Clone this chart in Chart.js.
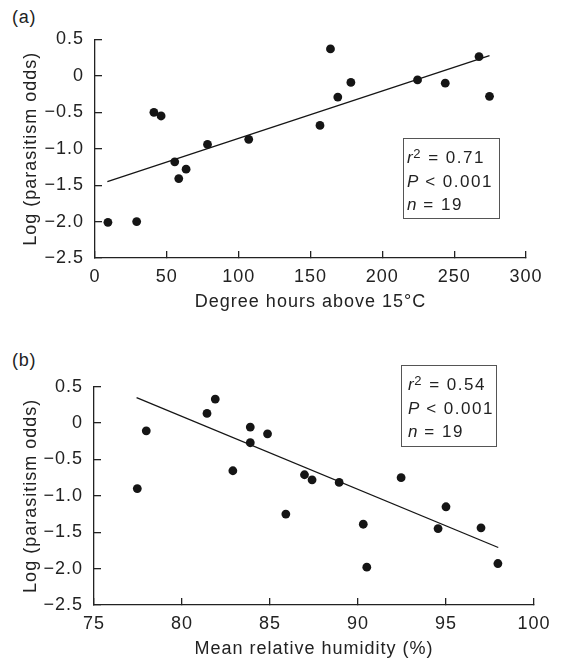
<!DOCTYPE html>
<html>
<head>
<meta charset="utf-8">
<script src="https://cdn.jsdelivr.net/npm/chart.js@4.4.1/dist/chart.umd.min.js"></script>
<style>
    html, body { margin: 0; padding: 0; background: #fff; }
    #fig { position: relative; width: 564px; height: 666px; font-family: "Liberation Sans", Arial, sans-serif; color: #222; }
    #fig canvas { position: absolute; left: 0; }
    .panel-tag { position: absolute; left: 12px; font-size: 18px; line-height: 22px; letter-spacing: 0.8px; }
    .stats { position: absolute; box-sizing: border-box; border: 1px solid #555; padding-top: 7px;
             font-size: 17px; line-height: 23.5px; letter-spacing: 1.5px; white-space: nowrap; }
    .stats i { font-style: italic; letter-spacing: 0.6px; }
    .stats sup { font-size: 13px; line-height: 0; vertical-align: baseline; position: relative; top: -4.6px; }
</style>
</head>
<body>
<div id="fig">
    <div class="panel-tag" style="top: 6px;">(a)</div>
    <div class="panel-tag" style="top: 349px;">(b)</div>
    <canvas id="chartA" width="564" height="333" style="top: 0;"></canvas>
    <canvas id="chartB" width="564" height="333" style="top: 333px;"></canvas>
    <div class="stats" style="left: 403px; top: 138px; width: 97px; height: 81px; padding-left: 3px;">
        <i>r</i><sup>2</sup> = 0.71<br><i>P</i> &lt; 0.001<br><i>n</i> = 19
    </div>
    <div class="stats" style="left: 401px; top: 365px; width: 96px; height: 82px; padding-left: 6px;">
        <i>r</i><sup>2</sup> = 0.54<br><i>P</i> &lt; 0.001<br><i>n</i> = 19
    </div>
</div>
<script>
// Panel (a): degree hours above 15°C vs log parasitism odds
const degreeHours = [9, 29, 41, 46, 55.5, 58.3, 63.4, 78.3, 107, 156.6, 163.9, 169, 178.1, 224.5, 243.8, 267.3, 274.6];
const logOddsA    = [-2.01, -2.0, -0.50, -0.55, -1.18, -1.41, -1.28, -0.94, -0.87, -0.68, 0.37, -0.29, -0.09, -0.055, -0.10, 0.265, -0.28];
const trendAx = [8.6, 274.6];
const trendAy = [-1.45, 0.28];

// Panel (b): mean relative humidity vs log parasitism odds
const humidity = [77.46, 77.97, 81.42, 81.89, 82.89, 83.88, 83.88, 84.86, 85.9, 86.96, 87.39, 88.93, 90.3, 90.5, 92.45, 94.55, 95.0, 96.99, 97.95];
const logOddsB = [-0.90, -0.106, 0.133, 0.33, -0.655, -0.055, -0.27, -0.147, -1.25, -0.71, -0.78, -0.815, -1.39, -1.98, -0.75, -1.45, -1.15, -1.44, -1.93];
const trendBx = [77.42, 97.97];
const trendBy = [0.35, -1.71];

// tick labels
const yTickLabels  = ['\u22122.5', '\u22122.0', '\u22121.5', '\u22121.0', '\u22120.5', '0', '0.5'];
const xTickLabelsA = ['0', '50', '100', '150', '200', '250', '300'];
const xTickLabelsB = ['75', '80', '85', '90', '95', '100'];

const INK = '#222';
const FONT = { family: '"Liberation Sans", Arial, sans-serif', size: 18, lineHeight: 1.2 };

// the printed figure uses a slightly wider-set sans; open the letters up a touch
const spacingPlugin = {
    id: 'spacing',
    beforeDraw(chart) { chart.ctx.letterSpacing = '1px'; }
};

const toPoints = (xs, ys) => xs.map((x, i) => ({ x: x, y: ys[i] }));

function buildPanel(id, cfg) {
    return new Chart(document.getElementById(id), {
        type: 'scatter',
        plugins: [spacingPlugin],
        data: {
            datasets: [
                {
                    data: toPoints(cfg.xs, cfg.ys),
                    backgroundColor: '#151515',
                    borderWidth: 0,
                    pointRadius: 4.4,
                    pointHoverRadius: 4.4
                },
                {
                    data: toPoints(cfg.tx, cfg.ty),
                    showLine: true,
                    borderColor: '#151515',
                    borderWidth: 1.3,
                    pointRadius: 0
                }
            ]
        },
        options: {
            responsive: false,
            animation: false,
            layout: { padding: { top: cfg.padTop, right: cfg.padRight, left: 0, bottom: 0 } },
            plugins: { legend: { display: false }, tooltip: { enabled: false } },
            scales: {
                x: {
                    type: 'linear',
                    min: cfg.xMin,
                    max: cfg.xMax,
                    afterFit: (s) => { s.height = cfg.xAxisHeight; },
                    ticks: {
                        stepSize: cfg.xStep,
                        autoSkip: false,
                        maxRotation: 0,
                        padding: 15,
                        color: INK,
                        font: FONT,
                        callback: (v, i) => cfg.xLabels[i]
                    },
                    grid: { drawOnChartArea: false, tickLength: -7, color: INK, lineWidth: 1.3 },
                    border: { color: INK, width: 1.3 },
                    title: { display: true, text: cfg.xTitle, color: INK, font: FONT, padding: { top: 0, bottom: cfg.xTitlePad } }
                },
                y: {
                    min: -2.5,
                    max: 0.5,
                    afterFit: (s) => { s.width = cfg.yAxisWidth; },
                    ticks: {
                        stepSize: 0.5,
                        autoSkip: false,
                        padding: 18,
                        color: INK,
                        font: FONT,
                        callback: (v, i) => yTickLabels[i]
                    },
                    grid: { drawOnChartArea: false, tickLength: -7, color: INK, lineWidth: 1.3 },
                    border: { color: INK, width: 1.3 },
                    title: { display: true, text: 'Log (parasitism odds)', color: INK, font: FONT, padding: { top: 20, bottom: 0 } }
                }
            }
        }
    });
}

buildPanel('chartA', {
    xs: degreeHours, ys: logOddsA, tx: trendAx, ty: trendAy,
    xMin: 0, xMax: 300, xStep: 50, xLabels: xTickLabelsA,
    xTitle: 'Degree hours above 15\u00b0C',
    padTop: 39.5, padRight: 38, yAxisWidth: 95, xAxisHeight: 75, xTitlePad: 20
});

buildPanel('chartB', {
    xs: humidity, ys: logOddsB, tx: trendBx, ty: trendBy,
    xMin: 75, xMax: 100, xStep: 5, xLabels: xTickLabelsB,
    xTitle: 'Mean relative humidity (%)',
    padTop: 53.7, padRight: 26, yAxisWidth: 94, xAxisHeight: 61, xTitlePad: 6
});
</script>
</body>
</html>
